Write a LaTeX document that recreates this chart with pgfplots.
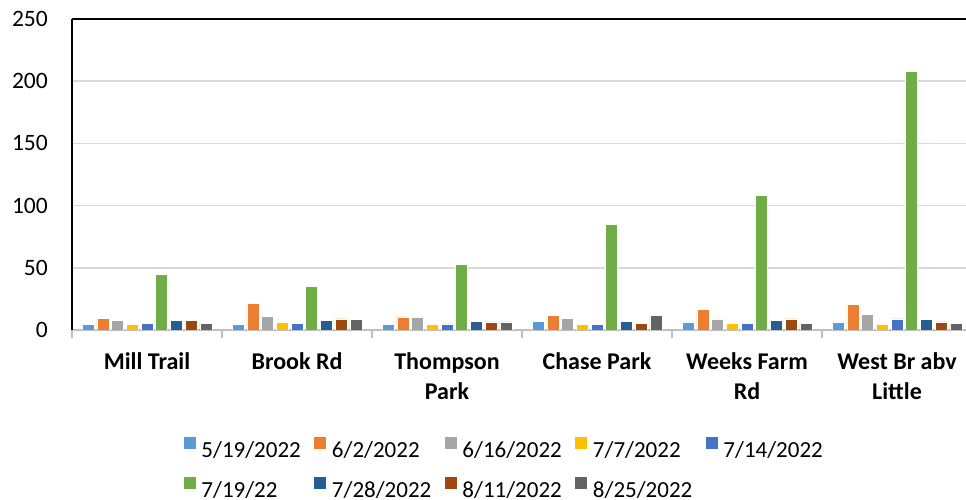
\documentclass[border=0pt]{standalone}
\usepackage{pgfplots}
\pgfplotsset{compat=1.18}
\usepackage{fontspec}
\setmainfont{Carlito}
\definecolor{c1}{HTML}{5B9BD5}
\definecolor{c2}{HTML}{ED7D31}
\definecolor{c3}{HTML}{A5A5A5}
\definecolor{c4}{HTML}{FFC000}
\definecolor{c5}{HTML}{4472C4}
\definecolor{c6}{HTML}{70AD47}
\definecolor{c7}{HTML}{255E91}
\definecolor{c8}{HTML}{9E480E}
\definecolor{c9}{HTML}{636363}
\definecolor{gridc}{HTML}{D9D9D9}
\definecolor{axc}{HTML}{BFBFBF}
\newcommand\legtxt[1]{\makebox[112bp][l]{#1}}
\begin{document}
\begin{tikzpicture}
\useasboundingbox (0,0) rectangle (966bp,500bp);
\clip (0,0) rectangle (966bp,500bp);
\begin{axis}[
  at={(72bp,170bp)}, anchor=south west,
  scale only axis, width=900bp, height=311bp,
  ybar=2.7bp, bar width=12bp,
  xmin=-0.5, xmax=5.5, ymin=0, ymax=250,
  ytick={0,50,100,150,200,250},
  xtick={0,1,2,3,4,5},
  xticklabels={Mill Trail, Brook Rd, Thompson\\Park, Chase Park, Weeks Farm\\Rd, West Br abv\\Little},
  axis lines=left, axis line style={-},
  y axis line style={draw=black, line width=2bp},
  x axis line style={draw=axc, line width=1.5bp},
  ymajorgrids, grid style={draw=gridc, line width=1.5bp},
  major tick length=0pt,
  extra x ticks={-0.5,0.5,1.5,2.5,3.5,4.5,5.5},
  extra x tick labels={},
  extra x tick style={major tick length=8bp, tick align=outside, grid=none,
     tick style={draw=axc, line width=1.5bp}},
  /pgf/number format/assume math mode=true,
  tick label style={font=\fontsize{23.5bp}{28bp}\selectfont, inner sep=0pt},
  yticklabel style={anchor=east, xshift=-24bp},
  xticklabel style={anchor=north, align=center, yshift=-22bp,
     font=\fontsize{24bp}{30bp}\selectfont\bfseries},
  legend columns=5,
  legend cell align=left,
  legend image code/.code={\fill[#1] (0bp,1bp) rectangle (13bp,14bp);},
  legend style={at={(axis description cs:0.1233,-0.3408)}, anchor=north west,
     draw=none, inner sep=0pt, outer sep=0pt, row sep=17bp, column sep=0pt,
     font=\fontsize{23bp}{28bp}\selectfont,
     nodes={inner sep=0pt, text height=16bp, text depth=2bp},
     /tikz/every odd column/.append style={column sep=5bp}},
  every axis plot/.append style={draw=white, line width=0.5bp},
]
\addplot[fill=c1] coordinates {(0,4.5) (1,4.5) (2,4.5) (3,7) (4,6.5) (5,6.5)};
\addplot[fill=c2] coordinates {(0,9.5) (1,21.5) (2,10.5) (3,12) (4,16.5) (5,20.5)};
\addplot[fill=c3] coordinates {(0,8) (1,11) (2,10.5) (3,9.5) (4,9) (5,12.5)};
\addplot[fill=c4] coordinates {(0,4.5) (1,6.5) (2,4.5) (3,4.5) (4,5.5) (5,4.5)};
\addplot[fill=c5] coordinates {(0,5.5) (1,5.5) (2,5) (3,4.5) (4,5.5) (5,9)};
\addplot[fill=c6] coordinates {(0,44.5) (1,35.5) (2,53) (3,85) (4,108) (5,208)};
\addplot[fill=c7] coordinates {(0,7.5) (1,7.5) (2,7) (3,7) (4,7.5) (5,8.5)};
\addplot[fill=c8] coordinates {(0,8) (1,9) (2,6.5) (3,5.5) (4,9) (5,6.5)};
\addplot[fill=c9] coordinates {(0,5.5) (1,8.5) (2,6.5) (3,11.5) (4,5.5) (5,5.5)};
\addlegendentry{\legtxt{5/19/2022}}
\addlegendentry{\legtxt{6/2/2022}}
\addlegendentry{\legtxt{6/16/2022}}
\addlegendentry{\legtxt{7/7/2022}}
\addlegendentry{\legtxt{7/14/2022}}
\addlegendentry{\legtxt{7/19/22}}
\addlegendentry{\legtxt{7/28/2022}}
\addlegendentry{\legtxt{8/11/2022}}
\addlegendentry{\legtxt{8/25/2022}}
\draw[black, line width=2bp] (rel axis cs:0,1) -- (rel axis cs:1,1);
\end{axis}
\end{tikzpicture}
\end{document}
